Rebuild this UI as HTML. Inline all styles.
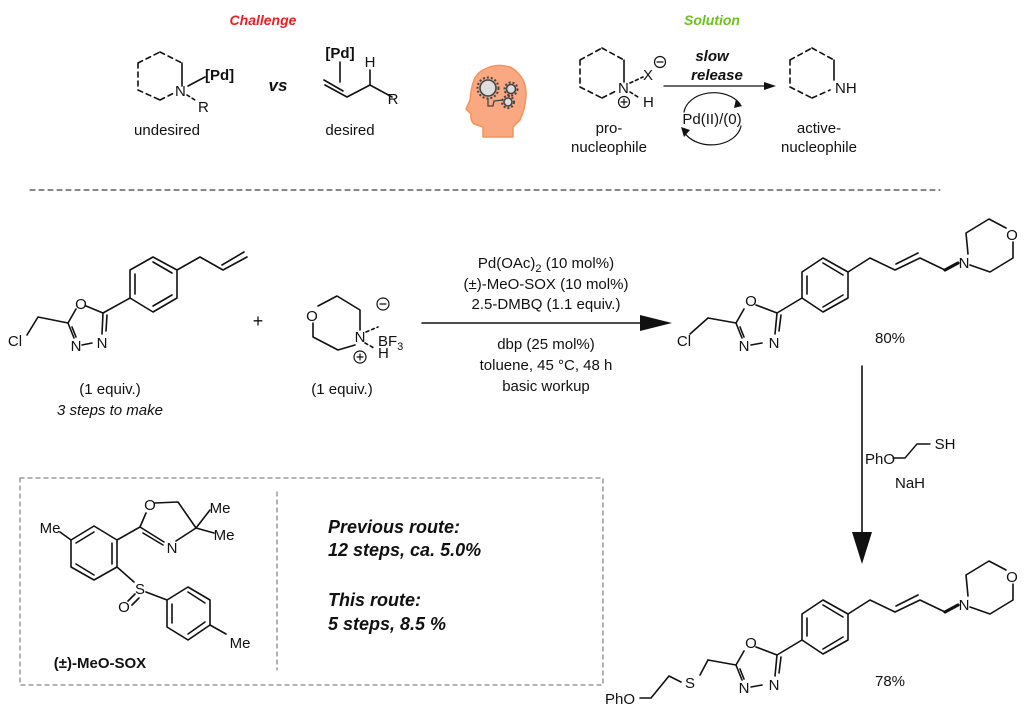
<!DOCTYPE html>
<html><head><meta charset="utf-8"><style>
html,body{margin:0;padding:0;background:#fff;}
svg{display:block;font-family:"Liberation Sans",Arial,sans-serif;}
</style></head><body>
<svg width="1024" height="709" viewBox="0 0 1024 709" xmlns="http://www.w3.org/2000/svg">
<g stroke="#111" stroke-width="1.6" fill="none" stroke-linecap="round" stroke-linejoin="round">

<!-- ===== Top: Challenge ===== -->
<path d="M182,63 L182,86" />
<path d="M160,52 L182,63 M138,63 L160,52 M138,63 L138,90 M138,90 L160,100 M160,100 L176,92" stroke-dasharray="5,4"/>
<path d="M188,86 L205,77" />
<path d="M187,95 L195,100" stroke-dasharray="3,3"/>
<!-- desired -->
<path d="M340,62 L340,82" />
<path d="M325,85 L347,97 L370,85 L392,97" />
<path d="M324,80 L343,91" />
<path d="M370,85 L370,70" />

<!-- ===== Top: Solution ===== -->
<path d="M624,60 L624,82" />
<path d="M602,48 L624,60 M580,60 L602,48 M580,60 L580,87 M580,87 L602,98 M602,98 L618,90" stroke-dasharray="5,4"/>
<path d="M630,83 L643,77" stroke-dasharray="3,3"/>
<path d="M630,92 L638,97" stroke-dasharray="3,3"/>
<circle cx="660" cy="62" r="5.5" stroke-width="1.2"/>
<path d="M657,62 L663,62" stroke-width="1.2"/>
<circle cx="624" cy="102" r="5.5" stroke-width="1.2"/>
<path d="M621,102 L627,102 M624,99 L624,105" stroke-width="1.2"/>
<path d="M664,86 L764,86" stroke-width="1.3"/>
<path d="M834,60 L834,80" />
<path d="M812,48 L834,60 M790,60 L812,48 M790,60 L790,87 M790,87 L812,98 M812,98 L830,90" stroke-dasharray="5,4"/>
<!-- cycle arrows -->
<path d="M684,112 A30,22 0 0 1 740,104" stroke-width="1.2"/>
<path d="M741,126 A30,22 0 0 1 684,132" stroke-width="1.2"/>

<!-- dashed separator -->
<path d="M30,190 L940,190" stroke-width="1" stroke-dasharray="5,4"/>

<!-- ===== Starting material ===== -->
<path d="M27,335 L38,317 L68,323" />
<path d="M68,323 L76,309 M86,306 L103,313 M103,313 L102,334 M107,315 L106,331 M68,323 L74,338 M72,327 L76,337 M82,345 L92,343" />
<path d="M103,313 L130,298" />
<path d="M130,298 L130,270 L153,257 L177,270 L177,298 L153,312 Z" />
<path d="M135,294 L135,274 M153,262 L172,273 M172,295 L153,306" />
<path d="M177,270 L200,257 L223,270 L247,257 M222,265 L244,252" />

<!-- morpholinium BF3 -->
<path d="M318,306 L337,296 L360,310 L360,330 M355,345 L338,350 L313,337 L313,323" />
<path d="M366,332 L378,327" stroke-dasharray="3,3"/>
<path d="M365,343 L374,348" stroke-dasharray="3,3"/>
<circle cx="383" cy="304" r="6" stroke-width="1.2"/>
<path d="M380,304 L386,304" stroke-width="1.2"/>
<circle cx="360" cy="357" r="6" stroke-width="1.2"/>
<path d="M357,357 L363,357 M360,354 L360,360" stroke-width="1.2"/>

<!-- main arrow -->
<path d="M422,323 L645,323" stroke-width="1.6"/>

<!-- ===== Product 1 ===== -->
<g id="prod">
<path d="M708,318 L736,323" />
<path d="M736,323 L744,309 M756,305 L777,313 M777,313 L775,334 M781,315 L779,331 M736,323 L742,338 M740,327 L744,337 M751,345 L762,343" />
<path d="M777,313 L802,298" />
<path d="M802,298 L802,272 L823,258 L848,272 L848,298 L823,312 Z" />
<path d="M807,294 L807,276 M823,263 L843,275 M843,295 L823,307" />
<path d="M848,272 L870,258 L895,270 L920,258 L945,270 M896,264 L918,253" />
<path d="M945,270 L958,263" stroke-width="3.2"/>
<path d="M968,254 L966,233 L989,219 L1006,228 M1013,242 L1013,258 L990,272 L970,265" />
</g>
<use href="#prod" transform="translate(0,342)"/>
<path d="M690,334 L708,318" />
<!-- product 2 thioether chain -->
<path d="M700,675 L708,660 M681,682 L669,676 L651,698 L640,698" />

<!-- reagent PhO-CH2CH2-SH -->
<path d="M893,458 L905,458 L917,444 L930,444" stroke-width="1.4"/>

<!-- vertical arrow -->
<path d="M862,366 L862,545" stroke-width="1.6"/>

<!-- SOX box -->
<rect x="20" y="478" width="583" height="207" stroke="#888" stroke-width="1.3" stroke-dasharray="4,4"/>
<path d="M277,492 L277,670" stroke="#888" stroke-width="1.3" stroke-dasharray="4,4"/>

<!-- SOX molecule -->
<path d="M71,540 L94,526 L117,540 L117,567 L94,580 L71,567 Z" />
<path d="M76,543 L94,532 M112,543 L112,564 M94,575 L76,564" />
<path d="M71,540 L60,532" />
<path d="M117,540 L140,527 L146,513 M155,503 L178,502 L196,528 L176,541 M140,527 L164,542 M143,533 L163,545" />
<path d="M196,528 L210,510 M196,528 L214,533" />
<path d="M117,567 L134,582 M146,592 L167,600" />
<path d="M135,594 L128,601 M139,598 L132,605" />
<path d="M167,600 L188,587 L210,600 L210,625 L188,640 L167,627 Z" />
<path d="M172,604 L172,623 M188,592 L205,603 M205,622 L188,634" />
<path d="M210,625 L226,634" />
</g>

<!-- arrowheads -->
<polygon points="640,315 672,323 640,331" fill="#111"/>
<polygon points="764,82 776,86 764,90" fill="#111"/>
<polygon points="736,99 742,106 734,108" fill="#111"/>
<polygon points="681,127 684,137 690,130" fill="#111"/>
<polygon points="852,532 872,532 862,564" fill="#111"/>

<!-- brain icon -->
<path d="M483,70 Q498,62 512,68 Q527,78 526,96 Q525,110 520,120 L513,127 L513,137 L483,137 L483,127 L474,124 Q470,120 471,114 L466,109 L470,100 Q471,88 474,80 Q477,73 483,70 Z" fill="#f9a882" stroke="#f4935a" stroke-width="1.5"/>
<g fill="#ddd" stroke="#444" stroke-width="1.6">
<circle cx="488" cy="88" r="8"/>
<circle cx="511" cy="89" r="4.5"/>
<circle cx="508" cy="102" r="4"/>
</g>
<g stroke="#444" stroke-width="2" stroke-dasharray="2,2" fill="none">
<circle cx="488" cy="88" r="10.5"/>
<circle cx="511" cy="89" r="6.5"/>
<circle cx="508" cy="102" r="6"/>
</g>
<path d="M488,98 L488,106 L493,106 L494,101 L503,100" stroke="#444" stroke-width="1.3" fill="none"/>

<!-- ===== Text ===== -->
<g fill="#111" font-size="15">
<text x="263" y="25" text-anchor="middle" fill="#ee1c24" font-weight="bold" font-style="italic" font-size="14">Challenge</text>
<text x="712" y="25" text-anchor="middle" fill="#6cc21a" font-weight="bold" font-style="italic" font-size="14">Solution</text>
<text x="205" y="80" font-weight="bold" font-size="15">[Pd]</text>
<text x="175" y="96" font-size="15">N</text>
<text x="198" y="112" font-size="15">R</text>
<text x="167" y="135" text-anchor="middle">undesired</text>
<text x="278" y="91" text-anchor="middle" font-weight="bold" font-style="italic" font-size="17">vs</text>
<text x="340" y="58" text-anchor="middle" font-weight="bold">[Pd]</text>
<text x="370" y="67" text-anchor="middle">H</text>
<text x="393" y="104" text-anchor="middle">R</text>
<text x="350" y="135" text-anchor="middle">desired</text>

<text x="618" y="93">N</text>
<text x="643" y="80">X</text>
<text x="643" y="107">H</text>
<text x="712" y="61" text-anchor="middle" font-weight="bold" font-style="italic">slow</text>
<text x="717" y="80" text-anchor="middle" font-weight="bold" font-style="italic">release</text>
<text x="712" y="124" text-anchor="middle">Pd(II)/(0)</text>
<text x="835" y="93">NH</text>
<text x="609" y="133" text-anchor="middle">pro-</text>
<text x="609" y="152" text-anchor="middle">nucleophile</text>
<text x="819" y="133" text-anchor="middle">active-</text>
<text x="819" y="152" text-anchor="middle">nucleophile</text>

<!-- SM -->
<text x="15" y="346" text-anchor="middle">Cl</text>
<text x="81" y="309" text-anchor="middle">O</text>
<text x="76" y="351" text-anchor="middle">N</text>
<text x="102" y="348" text-anchor="middle">N</text>
<text x="110" y="394" text-anchor="middle">(1 equiv.)</text>
<text x="110" y="415" text-anchor="middle" font-style="italic">3 steps to make</text>
<text x="258" y="327" text-anchor="middle" font-size="18">+</text>
<text x="312" y="321" text-anchor="middle">O</text>
<text x="360" y="342" text-anchor="middle">N</text>
<text x="378" y="346">BF<tspan font-size="11" dy="4">3</tspan></text>
<text x="378" y="358">H</text>
<text x="342" y="394" text-anchor="middle">(1 equiv.)</text>

<text x="546" y="268" text-anchor="middle">Pd(OAc)<tspan font-size="11" dy="4">2</tspan><tspan dy="-4"> (10 mol%)</tspan></text>
<text x="546" y="289" text-anchor="middle">(±)-MeO-SOX (10 mol%)</text>
<text x="546" y="309" text-anchor="middle">2.5-DMBQ (1.1 equiv.)</text>
<text x="546" y="349" text-anchor="middle">dbp (25 mol%)</text>
<text x="546" y="370" text-anchor="middle">toluene, 45 °C, 48 h</text>
<text x="546" y="391" text-anchor="middle">basic workup</text>

<!-- product 1 -->
<text x="684" y="346" text-anchor="middle">Cl</text>
<g id="ptext">
<text x="751" y="306" text-anchor="middle">O</text>
<text x="744" y="351" text-anchor="middle">N</text>
<text x="774" y="348" text-anchor="middle">N</text>
<text x="964" y="268" text-anchor="middle">N</text>
<text x="1012" y="240" text-anchor="middle">O</text>
</g>
<use href="#ptext" transform="translate(0,342)"/>
<text x="890" y="343" text-anchor="middle">80%</text>
<text x="890" y="686" text-anchor="middle">78%</text>
<text x="690" y="688" text-anchor="middle">S</text>
<text x="620" y="704" text-anchor="middle">PhO</text>
<text x="880" y="464" text-anchor="middle">PhO</text>
<text x="945" y="449" text-anchor="middle">SH</text>
<text x="910" y="488" text-anchor="middle">NaH</text>

<!-- SOX -->
<text x="50" y="533" text-anchor="middle">Me</text>
<text x="150" y="510" text-anchor="middle">O</text>
<text x="220" y="513" text-anchor="middle">Me</text>
<text x="172" y="553" text-anchor="middle">N</text>
<text x="224" y="540" text-anchor="middle">Me</text>
<text x="140" y="594" text-anchor="middle">S</text>
<text x="124" y="612" text-anchor="middle">O</text>
<text x="240" y="648" text-anchor="middle">Me</text>
<text x="100" y="668" text-anchor="middle" font-weight="bold">(±)-MeO-SOX</text>

<g font-size="18" font-weight="bold" font-style="italic">
<text x="328" y="533">Previous route:</text>
<text x="328" y="556">12 steps, ca. 5.0%</text>
<text x="328" y="606">This route:</text>
<text x="328" y="630">5 steps, 8.5 %</text>
</g>
</g>
</svg>
</body></html>
